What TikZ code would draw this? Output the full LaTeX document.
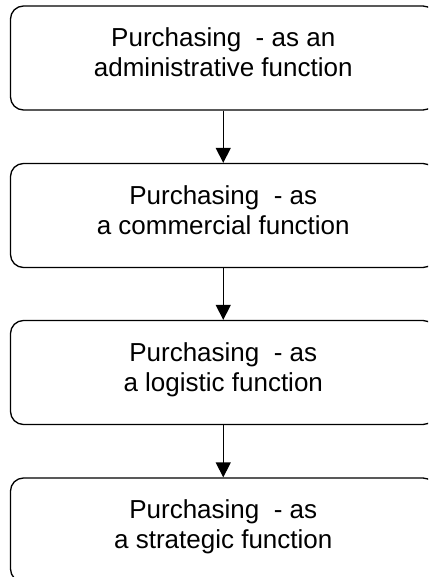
\documentclass[tikz,border=0pt]{standalone}
\usepackage{fontspec}
\setmainfont{Liberation Sans}
\usetikzlibrary{arrows.meta}
\begin{document}
\begin{tikzpicture}[x=1pt,y=-1pt,
  box/.style={draw=black, line width=1.3pt, rounded corners=13pt, minimum width=425.5pt, minimum height=104pt, align=center, font=\fontsize{26}{30}\selectfont, inner sep=0pt, text depth=11pt},
  flow/.style={line width=1.3pt, -{Triangle[length=15pt,width=15pt]}}]
\useasboundingbox (0,0) rectangle (428,577);
\clip (0,0) rectangle (428,577);
\node[box] (b1) at (223.25,58) {Purchasing\ \ - as an\\administrative function};
\node[box] (b2) at (223.25,215.5) {Purchasing\ \ - as\\a commercial function};
\node[box] (b3) at (223.25,372.5) {Purchasing\ \ - as\\a logistic function};
\node[box] (b4) at (223.25,530) {Purchasing\ \ - as\\a strategic function};
\draw[flow] (b1) -- (b2);
\draw[flow] (b2) -- (b3);
\draw[flow] (b3) -- (b4);
\end{tikzpicture}
\end{document}
